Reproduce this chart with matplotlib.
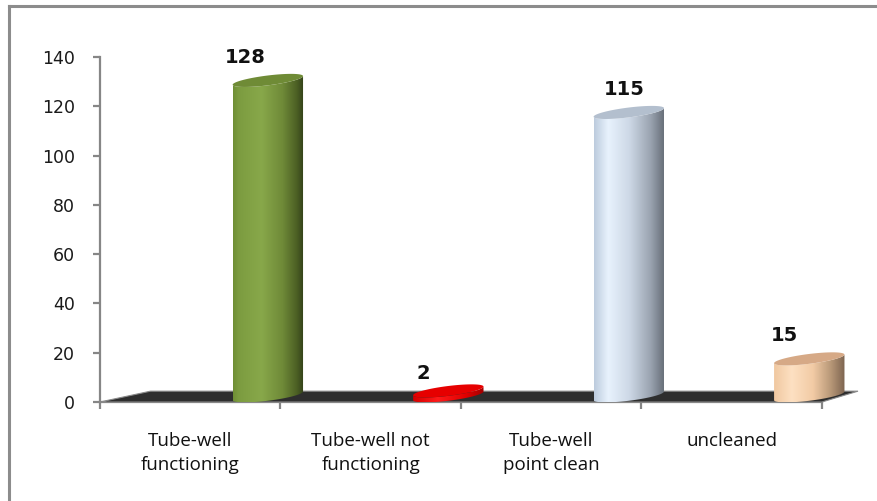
import numpy as np
import matplotlib.pyplot as plt
from matplotlib.patches import Polygon
from matplotlib.colors import LinearSegmentedColormap
from matplotlib.lines import Line2D

# data
categories = ['Tube-well\nfunctioning', 'Tube-well not\nfunctioning',
              'Tube-well\npoint clean', 'uncleaned']
values = [128, 2, 115, 15]
y_ticks = [0, 20, 40, 60, 80, 100, 120, 140]

# cylinder shading, left -> right
body_stops = [
    [(0, '#6f8f35'), (0.08, '#7c9c40'), (0.4, '#88a84a'), (0.7, '#6f8a38'), (0.9, '#4c6024'), (1, '#33401a')],
    [(0, '#d40000'), (0.35, '#ff1a1a'), (0.75, '#e00000'), (1, '#a00000')],
    [(0, '#bccbdd'), (0.2, '#e8f2fd'), (0.5, '#cdd8e6'), (0.8, '#9aa3b0'), (1, '#656c76')],
    [(0, '#f0c8a0'), (0.25, '#fde0c2'), (0.55, '#f2cba5'), (0.8, '#b89878'), (1, '#7d6450')],
]
cap_colors = ['#6f8b36', '#e60000', '#b3bfce', '#d6a986']
label_dx = [-23, -25, -5, -25]   # value label shift in pixels
label_dy = [5, 1, 5, 5]          # value label lift in points

axis_col = '#868686'

fig = plt.figure(figsize=(8.77, 5.01), dpi=100)
# axes runs a bit past the last tick so the floor/last bar are not clipped
ax = fig.add_axes([100/877, 99/501, 758/877, 345/501])

# 3d-ish settings (data units)
depth = 2.5      # bars sit mid-floor
shear = 1.75     # tilt of ellipses
minor = 2.0      # half thickness of ellipses
bw = 0.39        # bar width
shift = 0.93     # bar centre inside its category

# dark floor
floor = Polygon([[0, 0], [0.28, 4.4], [4.2, 4.4], [4, 0]], closed=True,
                fc='#2e2e2e', ec='#8a8a8a', lw=0.8, zorder=1, clip_on=False)
ax.add_patch(floor)


def cylinder(cx, top, base, stops, cap, z):
    a = bw / 2
    t = np.linspace(np.pi, 2*np.pi, 60)
    bot = np.c_[cx + a*np.cos(t), base + shear*np.cos(t) + minor*np.sin(t)]
    tr = t[::-1]
    tp = np.c_[cx + a*np.cos(tr), top + shear*np.cos(tr) + minor*np.sin(tr)]
    body = Polygon(np.vstack([bot, tp]), closed=True, fc='none', ec='none', clip_on=False)
    ax.add_patch(body)
    cmap = LinearSegmentedColormap.from_list('c', stops)
    grad = np.linspace(0, 1, 256)[None, :]
    im = ax.imshow(grad, cmap=cmap, aspect='auto', interpolation='bilinear',
                   extent=[cx - a, cx + a, base - shear - minor - 1, top + shear + minor + 1],
                   zorder=z)
    im.set_clip_path(body)
    tt = np.linspace(0, 2*np.pi, 120)
    capxy = np.c_[cx + a*np.cos(tt), top + shear*np.cos(tt) + minor*np.sin(tt)]
    ax.add_patch(Polygon(capxy, closed=True, fc=cap, ec='none', zorder=z + 0.1, clip_on=False))


for i, v in enumerate(values):
    cx = i + shift
    cylinder(cx, v + depth, depth, body_stops[i], cap_colors[i], 3 + i)
    peak = v + depth + np.hypot(shear, minor)
    ax.annotate(str(v), xy=(cx, peak), xytext=(label_dx[i]*0.72, label_dy[i]),
                textcoords='offset points', ha='center', va='bottom',
                fontsize=14, fontweight='bold', color='#111111',
                family='DejaVu Sans', annotation_clip=False)

ax.set_xlim(0, 4.2)
ax.set_ylim(0, 140)

for sp in ['top', 'right']:
    ax.spines[sp].set_visible(False)
for sp in ['left', 'bottom']:
    ax.spines[sp].set_color(axis_col)
    ax.spines[sp].set_linewidth(1.6)
    ax.spines[sp].set_zorder(0.5)
ax.spines['bottom'].set_bounds(0, 4)

ax.set_yticks(y_ticks)
ax.set_yticklabels([str(t) for t in y_ticks])
ax.tick_params(axis='y', length=5, width=1.6, color=axis_col, pad=13,
               labelsize=12.5, labelcolor='#1a1a1a')
ax.set_xticks(range(5))
ax.set_xticklabels([])
ax.tick_params(axis='x', length=5, width=1.6, color=axis_col)

for i, c in enumerate(categories):
    ax.text(i + 0.5, -12.2, c, ha='center', va='top', fontsize=13.5,
            family='Open Sans', linespacing=1.45, color='#111111', clip_on=False)

# outer chart frame (only top and left edges are inside the picture)
fig.add_artist(Line2D([9/877, 1], [1 - 6/501, 1 - 6/501], color='#8c8c8c', lw=2.2))
fig.add_artist(Line2D([9/877, 9/877], [0, 1 - 6/501], color='#8c8c8c', lw=2.2))

fig.savefig('out.png', dpi=100)
